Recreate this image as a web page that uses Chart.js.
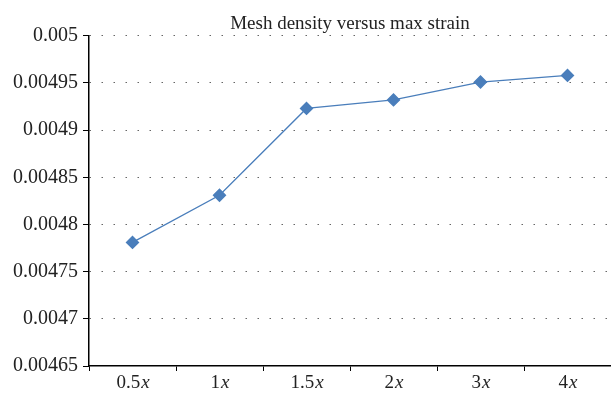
<!DOCTYPE html>
<html>
<head>
<meta charset="utf-8">
<script src="https://cdn.jsdelivr.net/npm/chart.js@4/dist/chart.umd.min.js"></script>
<style>
  body { margin: 0; background: #fff; }
  #wrap { width: 611px; height: 396px; }
</style>
</head>
<body>
<div id="wrap"><canvas id="myChart" width="611" height="396"></canvas></div>
<script>
let meshLabels = ['0.5x', '1x', '1.5x', '2x', '3x', '4x'];
let maxStrain = [0.004781, 0.004831, 0.004923, 0.004932, 0.004951, 0.004958];
let yTicks = [0.00465, 0.0047, 0.00475, 0.0048, 0.00485, 0.0049, 0.00495, 0.005];

const serif = "'Liberation Serif', 'DejaVu Serif', serif";

// draws the x labels with an italic "x", like the original
const italicX = {
    id: 'italicX',
    afterDraw(chart) {
        const ctx = chart.ctx;
        const xs = chart.scales.x;
        ctx.save();
        ctx.fillStyle = '#222';
        ctx.textBaseline = 'middle';
        meshLabels.forEach((lab, i) => {
            const num = lab.slice(0, -1);
            const px = xs.getPixelForValue(i);
            ctx.font = '19px ' + serif;
            const w1 = ctx.measureText(num).width;
            ctx.font = 'italic 19px ' + serif;
            const w2 = ctx.measureText('x').width;
            let left = px - (w1 + w2) / 2;
            ctx.font = '19px ' + serif;
            ctx.textAlign = 'left';
            ctx.fillText(num, left, 383);
            ctx.font = 'italic 19px ' + serif;
            ctx.fillText('x', left + w1 + 1, 383);
        });
        ctx.restore();
    }
};

let context = document.getElementById('myChart').getContext('2d');
let chart = new Chart(context, {
    type: 'line',
    data: {
        labels: meshLabels,
        datasets: [
            {
                label: 'max strain',
                data: maxStrain,
                borderColor: '#4a7ebb',
                backgroundColor: '#4a7ebb',
                borderWidth: 1.3,
                pointStyle: 'rectRot',
                pointRadius: 6,
                pointHoverRadius: 6,
                tension: 0
            }
        ]
    },
    options: {
        responsive: false,
        animation: false,
        layout: { autoPadding: false, padding: { left: 8, right: 0, top: 0, bottom: 0 } },
        plugins: {
            legend: { display: false },
            tooltip: { enabled: false },
            title: {
                display: true,
                text: 'Mesh density versus max strain',
                fullSize: false,
                color: '#222',
                font: { family: serif, size: 19, weight: 'normal' },
                padding: { top: 13, bottom: 0 }
            }
        },
        scales: {
            x: {
                offset: true,
                afterFit: (scale) => {
                    scale.paddingLeft = 0;
                    scale.paddingRight = 0;
                    scale.height = 30;
                },
                grid: {
                    offset: true,
                    drawOnChartArea: false,
                    drawTicks: true,
                    tickLength: 5,
                    tickColor: '#000',
                    tickWidth: 1
                },
                border: { display: true, color: '#000', width: 1.5 },
                ticks: {
                    color: 'rgba(0,0,0,0)',
                    font: { family: serif, size: 18 },
                    padding: 0,
                    maxRotation: 0
                }
            },
            y: {
                min: 0.00465,
                max: 0.005,
                afterBuildTicks: (scale) => {
                    scale.ticks = yTicks.map(v => ({ value: v }));
                },
                grid: {
                    color: (c) => (c.tick && c.tick.value === yTicks[0]) ? 'rgba(0,0,0,0)' : '#666',
                    lineWidth: 1,
                    drawTicks: true,
                    tickLength: 6,
                    tickColor: '#000',
                    tickWidth: 1,
                    tickBorderDash: []
                },
                border: { display: true, color: '#000', width: 1.5, dash: [1.5, 10.5] },
                ticks: {
                    color: '#222',
                    font: { family: serif, size: 20 },
                    padding: 5,
                    callback: (v) => parseFloat(Number(v).toFixed(5)).toString()
                }
            }
        }
    },
    plugins: [italicX]
});
</script>
</body>
</html>
